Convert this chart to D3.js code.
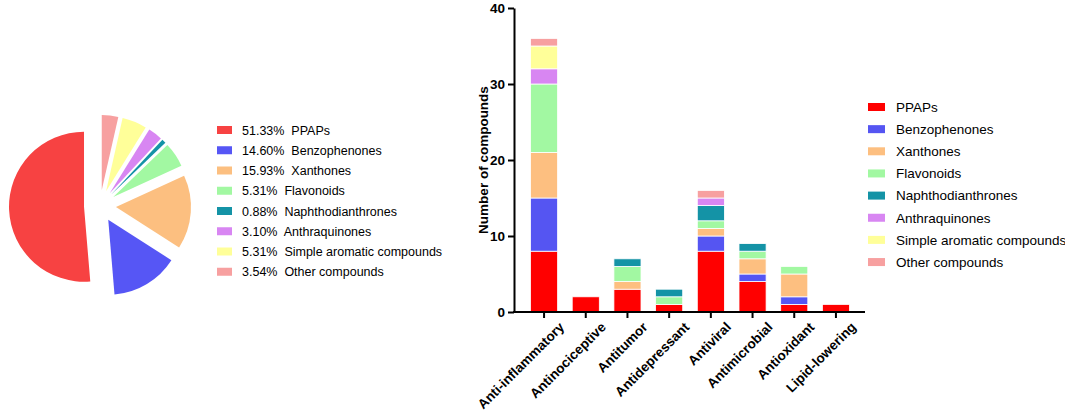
<!DOCTYPE html>
<html>
<head>
<meta charset="utf-8">
<script src="https://cdn.jsdelivr.net/npm/d3@7"></script>
<style>
  body { margin: 0; background: #fff; }
  svg { font-family: "Liberation Sans", Arial, sans-serif; }
  .axis path, .axis line { stroke: #000; stroke-width: 2px; }
  .axis text { font-size: 13.5px; font-weight: bold; fill: #000; }
</style>
</head>
<body>
<svg id="chart" width="1065" height="419"></svg>
<script>
// data
var groups = ['PPAPs', 'Benzophenones', 'Xanthones', 'Flavonoids',
    'Naphthodianthrones', 'Anthraquinones', 'Simple aromatic compounds', 'Other compounds'];
var shares = [51.33, 14.60, 15.93, 5.31, 0.88, 3.10, 5.31, 3.54];
var activities = ['Anti-inflammatory', 'Antinociceptive', 'Antitumor', 'Antidepressant',
    'Antiviral', 'Antimicrobial', 'Antioxidant', 'Lipid-lowering'];
var ppaps = [8, 2, 3, 1, 8, 4, 1, 1];
var benzophenones = [7, 0, 0, 0, 2, 1, 1, 0];
var xanthones = [6, 0, 1, 0, 1, 2, 3, 0];
var flavonoids = [9, 0, 2, 1, 1, 1, 1, 0];
var naphthodianthrones = [0, 0, 1, 1, 2, 1, 0, 0];
var anthraquinones = [2, 0, 0, 0, 1, 0, 0, 0];
var simpleAromatics = [3, 0, 0, 0, 0, 0, 0, 0];
var others = [1, 0, 0, 0, 1, 0, 0, 0];
var yTicks = [0, 10, 20, 30, 40];

var barColors = ['#ff0000', '#5555f2', '#fdbf80', '#a2f8a2', '#1493a6', '#d886f2', '#ffff99', '#f7a0a0'];
var pieColors = ['#f74242', '#5656f5', '#fcbf80', '#a2f8a2', '#1493a6', '#d886f2', '#ffff99', '#f7a0a0'];

var svg = d3.select('#chart');

// ---- pie ----
var pieGroup = svg.append('g').attr('transform', 'translate(100,206)');
var radius = 75;
var explode = 16;

var pie = d3.pie().sort(null).startAngle(0).endAngle(-2 * Math.PI);
var arc = d3.arc().innerRadius(0).outerRadius(radius);

pieGroup.selectAll('path')
    .data(pie(shares))
    .enter().append('path')
    .attr('d', arc)
    .attr('fill', function (d, i) { return pieColors[i]; })
    .attr('transform', function (d) {
        var mid = (d.startAngle + d.endAngle) / 2;
        return 'translate(' + (Math.sin(mid) * explode) + ',' + (-Math.cos(mid) * explode) + ')';
    });

var pieLegend = svg.append('g').attr('transform', 'translate(217,130)');
var pieRows = pieLegend.selectAll('g')
    .data(groups)
    .enter().append('g')
    .attr('transform', function (d, i) { return 'translate(0,' + (i * 20.25) + ')'; });
pieRows.append('rect')
    .attr('x', 0).attr('y', -4).attr('width', 15).attr('height', 8)
    .attr('fill', function (d, i) { return pieColors[i]; });
pieRows.append('text')
    .attr('x', 25).attr('dy', '0.36em')
    .style('font-size', '12.5px')
    .style('white-space', 'pre')
    .attr('xml:space', 'preserve')
    .text(function (d, i) { return shares[i].toFixed(2) + '%  ' + d; });

// ---- stacked bars ----
var series = [ppaps, benzophenones, xanthones, flavonoids,
    naphthodianthrones, anthraquinones, simpleAromatics, others];
var rows = activities.map(function (a, j) {
    var row = { activity: a };
    groups.forEach(function (g, i) { row[g] = series[i][j]; });
    return row;
});
var stacked = d3.stack().keys(groups)(rows);

var x = d3.scaleBand()
    .domain(activities)
    .range([515, 865])
    .paddingInner(0.35)
    .paddingOuter(0.372);
var y = d3.scaleLinear().domain([0, 40]).range([312, 8]);

var barGroup = svg.append('g');
barGroup.selectAll('g')
    .data(stacked)
    .enter().append('g')
    .attr('fill', function (d, i) { return barColors[i]; })
    .selectAll('rect')
    .data(function (d) { return d.filter(function (p) { return p[1] > p[0]; }); })
    .enter().append('rect')
    .attr('x', function (d) { return x(d.data.activity); })
    .attr('width', x.bandwidth())
    .attr('y', function (d) { return y(d[1]); })
    .attr('height', function (d) { return y(d[0]) - y(d[1]); })
    .attr('stroke', '#fff')
    .attr('stroke-width', 0.8);

var $yAxis = svg.append('g')
    .classed('axis', true)
    .attr('transform', 'translate(514,0)')
    .call(d3.axisLeft(y).tickValues(yTicks).tickSize(6).tickSizeOuter(0));

var $xAxis = svg.append('g')
    .classed('axis', true)
    .attr('transform', 'translate(0,312)')
    .call(d3.axisBottom(x).tickSize(6).tickSizeOuter(0));

$xAxis.select('.domain').attr('d', 'M513,0H865');

$xAxis.selectAll('text')
    .attr('transform', 'translate(6,1) rotate(-45)')
    .attr('dx', 0)
    .attr('dy', '0.9em')
    .style('text-anchor', 'end');

svg.append('text')
    .attr('transform', 'translate(488,160) rotate(-90)')
    .style('text-anchor', 'middle')
    .style('font-size', '13.5px')
    .style('font-weight', 'bold')
    .text('Number of compounds');

var barLegend = svg.append('g').attr('transform', 'translate(868,107)');
var barRows = barLegend.selectAll('g')
    .data(groups)
    .enter().append('g')
    .attr('transform', function (d, i) { return 'translate(0,' + (i * 22.15) + ')'; });
barRows.append('rect')
    .attr('x', 0).attr('y', -4).attr('width', 17).attr('height', 8)
    .attr('fill', function (d, i) { return barColors[i]; });
barRows.append('text')
    .attr('x', 28).attr('dy', '0.36em')
    .style('font-size', '13.5px')
    .text(function (d) { return d; });
</script>
</body>
</html>
